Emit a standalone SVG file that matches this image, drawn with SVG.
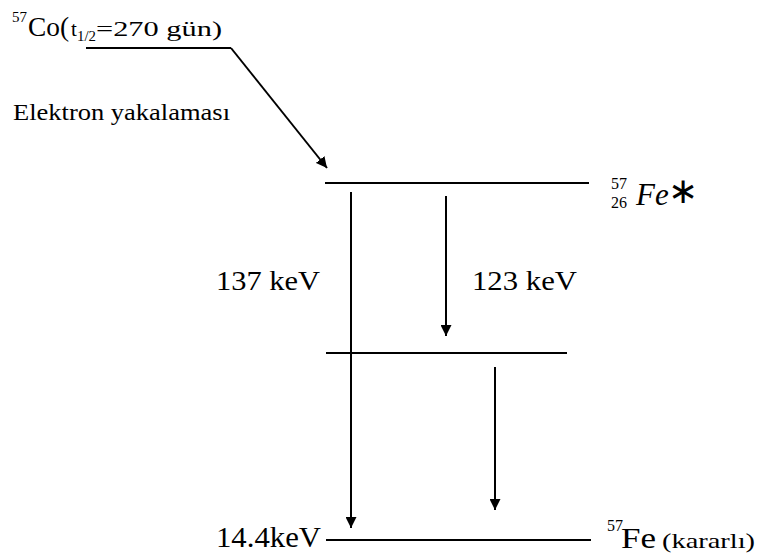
<svg xmlns="http://www.w3.org/2000/svg" width="758" height="553" viewBox="0 0 758 553">
<defs>
<marker id="ah" markerWidth="11" markerHeight="11" refX="11" refY="5.5" orient="auto" markerUnits="userSpaceOnUse" viewBox="0 0 11 11">
<path d="M0,0 L11,5.5 L0,11 z" fill="#000"/>
</marker>
<style>
.lv{stroke:#000;stroke-width:2;fill:none}
.ar{stroke:#000;stroke-width:2;fill:none;marker-end:url(#ah)}
.t{font-family:"Liberation Serif","Times New Roman",serif;fill:#000}
</style>
</defs>
<rect width="758" height="553" fill="#fff"/>
<g id="co57">
<line class="lv" x1="86" y1="48" x2="231" y2="48"/>
<text class="t" x="12" y="22" font-size="15">57</text>
<text class="t" x="28" y="36" font-size="27" textLength="41" lengthAdjust="spacingAndGlyphs">Co(</text>
<text class="t" x="71" y="36" font-size="21">t</text>
<text class="t" x="77" y="41" font-size="14" textLength="19" lengthAdjust="spacingAndGlyphs">1/2</text>
<text class="t" x="96" y="36" font-size="22" textLength="126" lengthAdjust="spacingAndGlyphs">=270 gün)</text>
</g>
<g id="capture-label">
<text class="t" x="13" y="120" font-size="24" textLength="217" lengthAdjust="spacingAndGlyphs">Elektron yakalaması</text>
</g>
<g id="fe57-excited">
<line class="lv" x1="325" y1="183" x2="589" y2="183"/>
<text class="t" x="611" y="189" font-size="16">57</text>
<text class="t" x="611" y="208" font-size="16">26</text>
<text class="t" x="636" y="205" font-size="31" font-style="italic">Fe</text>
<text class="t" x="668" y="203" font-size="36">∗</text>
</g>
<g id="fe57-intermediate">
<line class="lv" x1="326" y1="353" x2="567" y2="353"/>
</g>
<g id="fe57-ground">
<line class="lv" x1="326" y1="540" x2="591" y2="540"/>
<text class="t" x="216" y="547" font-size="29" textLength="105" lengthAdjust="spacingAndGlyphs">14.4keV</text>
<text class="t" x="607" y="531" font-size="16">57</text>
<text class="t" x="621" y="548" font-size="29" textLength="35" lengthAdjust="spacingAndGlyphs">Fe</text>
<text class="t" x="662" y="548" font-size="22" textLength="93" lengthAdjust="spacingAndGlyphs">(kararlı)</text>
</g>
<g id="labels">
<text class="t" x="216" y="290" font-size="28" textLength="104" lengthAdjust="spacingAndGlyphs">137 keV</text>
<text class="t" x="472" y="290" font-size="28" textLength="105" lengthAdjust="spacingAndGlyphs">123 keV</text>
</g>
<g id="connectors">
<line class="ar" x1="231" y1="48" x2="327" y2="168"/>
<line class="ar" x1="351" y1="192" x2="351" y2="528"/>
<line class="ar" x1="446" y1="196" x2="446" y2="336"/>
<line class="ar" x1="495" y1="367" x2="495" y2="510"/>
</g>
</svg>
